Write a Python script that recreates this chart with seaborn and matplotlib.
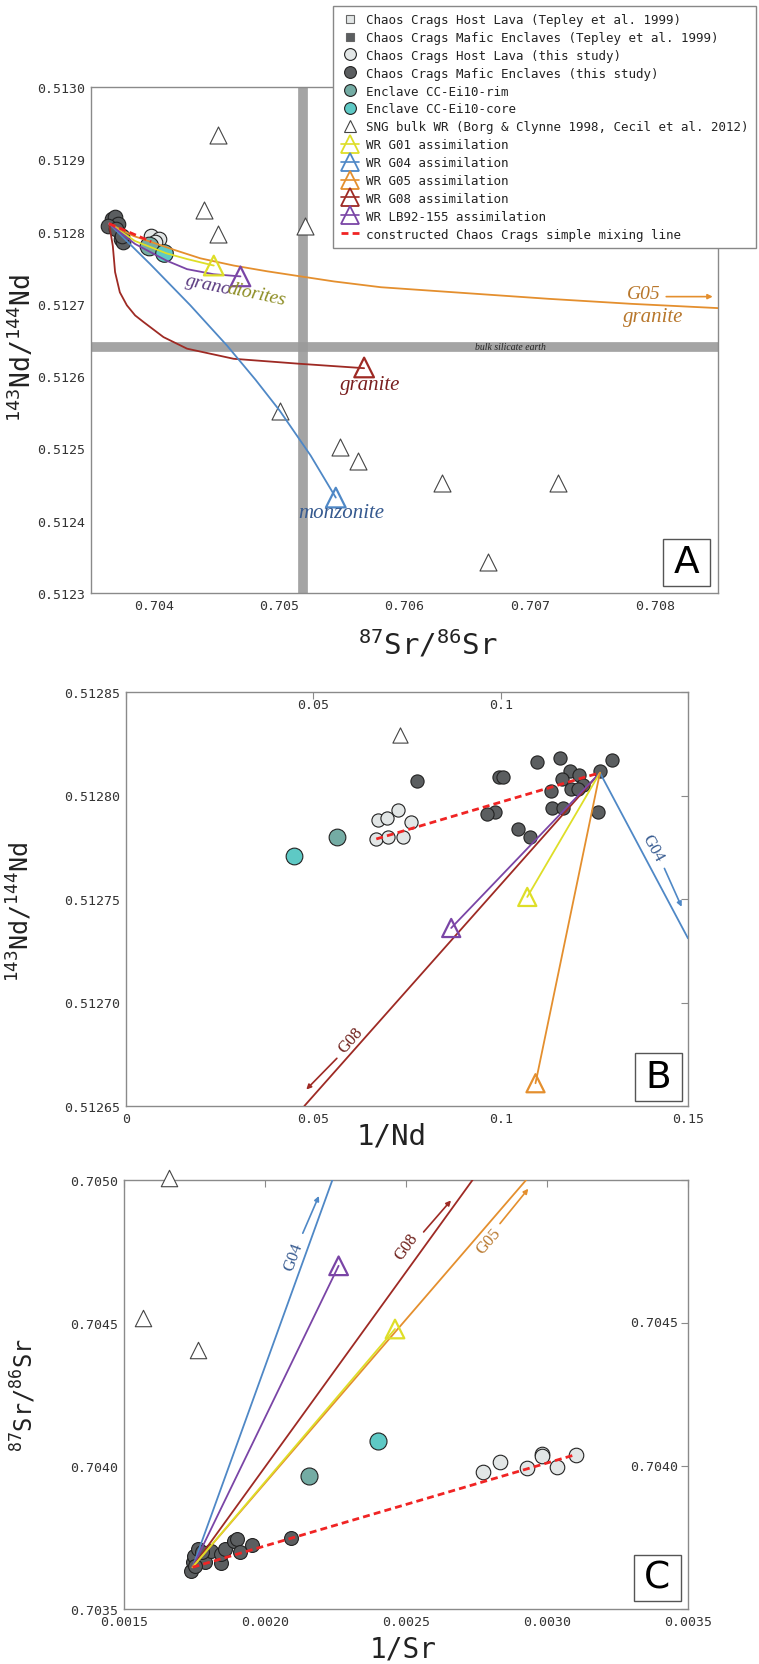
import math
import matplotlib
matplotlib.use("Agg")
import matplotlib.pyplot as plt
import matplotlib.transforms as mtrans
from matplotlib.lines import Line2D
from matplotlib.patches import Rectangle
import pandas as pd
import seaborn as sns

sns.set_theme(style="white")
plt.rcParams["font.family"] = ["DejaVu Sans Mono", "DejaVu Sans"]
plt.rcParams["mathtext.fontset"] = "custom"
plt.rcParams["mathtext.rm"] = "DejaVu Sans Mono"
plt.rcParams["mathtext.it"] = "DejaVu Sans Mono"
plt.rcParams["mathtext.bf"] = "DejaVu Sans Mono"

# ---------------- colours ----------------
C_HOST = "#e2e6e6"
C_MAFIC = "#5b5e60"
C_RIM = "#74aca4"
C_CORE = "#5ec9c5"
C_G01 = "#dede28"
C_G04 = "#4f88c6"
C_G05 = "#e48f2e"
C_G08 = "#9e2a24"
C_LB = "#7a45a6"
C_MIX = "#f02424"
C_BAND = "#9a9a9a"
C_SPINE = "#8a8a8a"

# ---------------- panel A: 87Sr/86Sr vs 143Nd/144Nd ----------------
a_host_sr = [0.70398, 0.70404, 0.70401]
a_host_nd = [0.512794, 0.512790, 0.512786]
a_mafic_sr = [0.703665, 0.703692, 0.703719, 0.703639, 0.703700, 0.703737, 0.703759, 0.703745]
a_mafic_nd = [0.512817, 0.512820, 0.512810, 0.512808, 0.512804, 0.512790, 0.512785, 0.512794]
a_rim = (0.703966, 0.512780)
a_core = (0.704086, 0.512771)
a_sng_sr = [0.704513, 0.704398, 0.704513, 0.705204, 0.705006, 0.705484, 0.705626, 0.706298, 0.707228, 0.706666]
a_sng_nd = [0.512933, 0.512830, 0.512797, 0.512808, 0.512552, 0.512502, 0.512482, 0.512452, 0.512452, 0.512343]
a_bse_sr = 0.70519
a_bse_nd = 0.512641

a_g01_sr = [0.703644, 0.703850, 0.704100, 0.704266, 0.704479]
a_g01_nd = [0.512811, 0.512787, 0.512770, 0.512762, 0.512753]
a_lb_sr = [0.703644, 0.703850, 0.704100, 0.704266, 0.704478, 0.704692]
a_lb_nd = [0.512811, 0.512783, 0.512760, 0.512748, 0.512741, 0.512738]
a_g05_sr = [0.703644, 0.703838, 0.704158, 0.704372, 0.704638, 0.704906, 0.705172,
            0.705438, 0.705812, 0.706478, 0.707146, 0.707812, 0.708514]
a_g05_nd = [0.512811, 0.512794, 0.512775, 0.512763, 0.512753, 0.512745, 0.512738,
            0.512731, 0.512723, 0.512715, 0.512707, 0.512700, 0.512694]
a_g08_sr = [0.703644, 0.703674, 0.703692, 0.703730, 0.703786, 0.703852, 0.703918,
            0.704078, 0.704266, 0.704638, 0.705172, 0.705678]
a_g08_nd = [0.512811, 0.512780, 0.512744, 0.512716, 0.512698, 0.512684, 0.512675,
            0.512654, 0.512638, 0.512624, 0.512617, 0.512611]
a_g04_sr = [0.703644, 0.703972, 0.704292, 0.704586, 0.704812, 0.705006, 0.705252, 0.705452]
a_g04_nd = [0.512811, 0.512755, 0.512698, 0.512642, 0.512595, 0.512552, 0.512490, 0.512432]
a_mix_sr = [0.703644, 0.703980]
a_mix_nd = [0.512811, 0.512786]
a_tri_g01 = (0.704479, 0.512753)
a_tri_lb = (0.704692, 0.512738)
a_tri_g08 = (0.705678, 0.512612)
a_tri_g04 = (0.705452, 0.512432)

# ---------------- panel B: 1/Nd vs 143Nd/144Nd ----------------
b_host_x = [0.0672, 0.0696, 0.0725, 0.0761, 0.0668, 0.0700, 0.0738]
b_host_y = [0.512788, 0.512789, 0.512793, 0.512787, 0.512779, 0.512780, 0.512780]
b_mafic_x = [0.0778, 0.1098, 0.1158, 0.1298, 0.1265, 0.1185, 0.1209, 0.1165, 0.1220,
             0.1189, 0.1207, 0.1134, 0.0996, 0.1007, 0.0985, 0.0964, 0.1136, 0.1167,
             0.1260, 0.1047, 0.1078]
b_mafic_y = [0.512807, 0.512816, 0.512818, 0.512817, 0.512812, 0.512812, 0.512810, 0.512808,
             0.512805, 0.512803, 0.512803, 0.512802, 0.512809, 0.512809, 0.512792, 0.512791,
             0.512794, 0.512794, 0.512792, 0.512784, 0.512780]
b_rim = (0.0564, 0.512780)
b_core = (0.0448, 0.512771)
b_sng = (0.0731, 0.512829)
b_end = (0.1265, 0.512811)
b_tri_g01 = (0.1071, 0.512751)
b_tri_lb = (0.0868, 0.512736)
b_tri_g05 = (0.1093, 0.512661)
b_g04_edge = (0.1500, 0.512731)
b_g08_edge = (0.0476, 0.512650)
b_mix_start = (0.0668, 0.512779)

# ---------------- panel C: 1/Sr vs 87Sr/86Sr ----------------
c_host_x = [0.002772, 0.002835, 0.002930, 0.002984, 0.002984, 0.003036, 0.003102]
c_host_y = [0.703978, 0.704013, 0.703992, 0.704042, 0.704034, 0.703995, 0.704040]
c_mafic_x = [0.001736, 0.001743, 0.001747, 0.001763, 0.001787, 0.001807, 0.001845, 0.001845,
             0.001858, 0.001890, 0.001902, 0.001910, 0.001953, 0.002092, 0.001750, 0.001775]
c_mafic_y = [0.703634, 0.703663, 0.703686, 0.703710, 0.703665, 0.703704, 0.703661, 0.703692,
             0.703710, 0.703739, 0.703745, 0.703700, 0.703725, 0.703747, 0.703650, 0.703700]
c_rim = (0.002155, 0.703966)
c_core = (0.002400, 0.704086)
c_sng_x = [0.001661, 0.001568, 0.001764]
c_sng_y = [0.705006, 0.704517, 0.704407]
c_end = (0.001743, 0.703646)
c_tri_g01 = (0.002461, 0.704479)
c_tri_lb = (0.002261, 0.704700)
c_g04_edge = (0.002239, 0.705000)
c_g08_edge = (0.002736, 0.705000)
c_g05_edge = (0.002926, 0.705000)
c_mix_end = (0.003102, 0.704040)

W, H = 759, 1665
fig = plt.figure(figsize=(W / 100, H / 100), dpi=100)


def fig_axes(l, t, r, b):
    return fig.add_axes([l / W, 1 - b / H, (r - l) / W, (b - t) / H])


axA = fig_axes(91, 88, 718, 594)
axB = fig_axes(126, 693, 688, 1107)
axC = fig_axes(124, 1181, 688, 1610)

EDGE = "#222222"


def points(ax, x, y, color, size, z=3):
    df = pd.DataFrame({"x": list(x), "y": list(y)})
    sns.scatterplot(data=df, x="x", y="y", ax=ax, color=color, s=size,
                    edgecolor=EDGE, linewidth=0.8, zorder=z, legend=False)


def sng(ax, x, y, size):
    df = pd.DataFrame({"x": list(x), "y": list(y)})
    sns.scatterplot(data=df, x="x", y="y", ax=ax, marker="^", s=size,
                    facecolor="white", edgecolor="#444444", linewidth=0.8,
                    zorder=4, legend=False, clip_on=False)


def curve(ax, x, y, color, lw=1.3, z=5, **kw):
    df = pd.DataFrame({"x": list(x), "y": list(y)})
    sns.lineplot(data=df, x="x", y="y", ax=ax, color=color, lw=lw, sort=False,
                 estimator=None, zorder=z, legend=False, **kw)


def tri(ax, pt, color, size=170):
    df = pd.DataFrame({"x": [pt[0]], "y": [pt[1]]})
    sns.scatterplot(data=df, x="x", y="y", ax=ax, marker="^", s=size,
                    facecolor="none", edgecolor=color, linewidth=1.6,
                    zorder=7, legend=False)


def style(ax):
    for sp in ax.spines.values():
        sp.set_color(C_SPINE)
        sp.set_linewidth(1.0)
    ax.tick_params(direction="in", length=5, width=0.8, color=C_SPINE,
                   labelsize=9.5, labelcolor="#333333", pad=4)
    ax.set_facecolor("white")
    ax.grid(False)


def panel_tag(ax, letter, x0, y0, x1, y1):
    ax.add_patch(Rectangle((x0, y0), x1 - x0, y1 - y0, transform=ax.transAxes,
                           facecolor="white", edgecolor="#555555", lw=1.0,
                           zorder=20, clip_on=False))
    ax.text((x0 + x1) / 2, (y0 + y1) / 2, letter, transform=ax.transAxes,
            ha="center", va="center", fontsize=27, family="DejaVu Sans",
            color="black", zorder=21)


serif = ["Liberation Serif", "DejaVu Serif"]

# ======================= panel A =======================
axA.axvline(a_bse_sr, color=C_BAND, lw=7, alpha=0.9, zorder=1)
axA.axhline(a_bse_nd, color=C_BAND, lw=7, alpha=0.9, zorder=1)
points(axA, a_host_sr, a_host_nd, C_HOST, 110)
points(axA, a_mafic_sr, a_mafic_nd, C_MAFIC, 110)
points(axA, [a_rim[0]], [a_rim[1]], C_RIM, 180)
points(axA, [a_core[0]], [a_core[1]], C_CORE, 160)
sng(axA, a_sng_sr, a_sng_nd, 150)
curve(axA, a_g05_sr, a_g05_nd, C_G05)
curve(axA, a_g08_sr, a_g08_nd, C_G08)
curve(axA, a_g04_sr, a_g04_nd, C_G04)
curve(axA, a_g01_sr, a_g01_nd, C_G01)
curve(axA, a_lb_sr, a_lb_nd, C_LB)
curve(axA, a_mix_sr, a_mix_nd, C_MIX, lw=2.0, z=6, dashes=(2.5, 1.5))
tri(axA, a_tri_g01, C_G01, 200)
tri(axA, a_tri_lb, C_LB, 200)
tri(axA, a_tri_g08, C_G08, 200)
tri(axA, a_tri_g04, C_G04, 200)

axA.set_xlim(0.7035, 0.7085)
axA.set_ylim(0.5123, 0.5130)
axA.set_xticks([0.704, 0.705, 0.706, 0.707, 0.708])
axA.set_xticklabels(["0.704", "0.705", "0.706", "0.707", "0.708"])
axA.set_yticks([0.5123 + 0.0001 * i for i in range(8)])
axA.set_yticklabels(["%.4f" % (0.5123 + 0.0001 * i) for i in range(8)])
style(axA)
axA.set_xlabel(r"$^{87}$Sr/$^{86}$Sr", fontsize=21, color="#222222", va="center")
axA.xaxis.set_label_coords(0.537, -0.1)
axA.set_ylabel(r"$^{143}$Nd/$^{144}$Nd", fontsize=19, color="#222222", va="center")
axA.yaxis.set_label_coords(-0.11, 0.486)

# two-coloured "granodiorites": second half placed right after the first along the baseline
g_rot = -12
gkw = dict(fontsize=14, family=serif, style="italic", rotation=g_rot,
           rotation_mode="anchor", va="baseline", ha="left", zorder=8)
g_x, g_y = 0.704252, 0.512728
axA.text(g_x, g_y, "grano", color="#5a3a80", **gkw)
fig.canvas.draw()
probe = axA.text(0, 0, "grano", fontsize=14, family=serif, style="italic")
w_px = probe.get_window_extent(renderer=fig.canvas.get_renderer()).width * 0.9
probe.remove()
off = mtrans.offset_copy(axA.transData, fig=fig,
                         x=w_px * math.cos(math.radians(g_rot)),
                         y=w_px * math.sin(math.radians(g_rot)), units="dots")
axA.text(g_x, g_y, "diorites", color="#8c8c22", transform=off, **gkw)

axA.text(0.707908, 0.512714, "G05", color="#b8772c", fontsize=14, family=serif,
         style="italic", ha="center", va="center", zorder=8)
axA.annotate("", xy=(0.70848, 0.512710), xytext=(0.708065, 0.512710),
             arrowprops=dict(arrowstyle="-|>", color=C_G05, lw=1.2, mutation_scale=7), zorder=8)
axA.text(0.70798, 0.512682, "granite", color="#b8772c", fontsize=15, family=serif,
         style="italic", ha="center", va="center", zorder=8)
axA.text(0.705724, 0.512589, "granite", color="#7a1f1f", fontsize=15, family=serif,
         style="italic", ha="center", va="center", zorder=8)
axA.text(0.705492, 0.512412, "monzonite", color="#35598f", fontsize=15, family=serif,
         style="italic", ha="center", va="center", zorder=8)
axA.text(0.706844, 0.512641, "bulk silicate earth", color="#222222", fontsize=7,
         family=serif, style="italic", ha="center", va="center", zorder=8)
panel_tag(axA, "A", 0.912, 0.014, 0.987, 0.107)

# ======================= panel B =======================
points(axB, b_host_x, b_host_y, C_HOST, 90)
points(axB, b_mafic_x, b_mafic_y, C_MAFIC, 90)
points(axB, [b_rim[0]], [b_rim[1]], C_RIM, 145)
points(axB, [b_core[0]], [b_core[1]], C_CORE, 145)
sng(axB, [b_sng[0]], [b_sng[1]], 120)
curve(axB, [b_end[0], b_g04_edge[0]], [b_end[1], b_g04_edge[1]], C_G04)
curve(axB, [b_end[0], b_g08_edge[0]], [b_end[1], b_g08_edge[1]], C_G08)
curve(axB, [b_end[0], b_tri_lb[0]], [b_end[1], b_tri_lb[1]], C_LB)
curve(axB, [b_end[0], b_tri_g01[0]], [b_end[1], b_tri_g01[1]], C_G01)
curve(axB, [b_end[0], b_tri_g05[0]], [b_end[1], b_tri_g05[1]], C_G05)
curve(axB, [b_mix_start[0], b_end[0]], [b_mix_start[1], b_end[1]], C_MIX, lw=2.0, z=6,
      dashes=(2.5, 1.5))
tri(axB, b_tri_g01, C_G01, 170)
tri(axB, b_tri_lb, C_LB, 170)
tri(axB, b_tri_g05, C_G05, 170)

axB.set_xlim(0, 0.15)
axB.set_ylim(0.51265, 0.51285)
axB.set_xticks([0, 0.05, 0.1, 0.15])
axB.set_xticklabels(["0", "0.05", "0.1", "0.15"])
axB.set_yticks([0.51265, 0.51270, 0.51275, 0.51280, 0.51285])
axB.set_yticklabels(["0.51265", "0.51270", "0.51275", "0.51280", "0.51285"])
style(axB)
axB.tick_params(top=True, right=True)
tB = mtrans.blended_transform_factory(axB.transData, axB.transAxes)
for v, s in [(0.05, "0.05"), (0.1, "0.1")]:
    axB.text(v, 0.985, s, transform=tB, ha="center", va="top", fontsize=9.5, color="#333333")
axB.set_xlabel("1/Nd", fontsize=21, color="#222222", va="center")
axB.xaxis.set_label_coords(0.472, -0.072)
axB.set_ylabel(r"$^{143}$Nd/$^{144}$Nd", fontsize=18, color="#222222", va="center")
axB.yaxis.set_label_coords(-0.19, 0.47)

axB.text(0.1407, 0.512775, "G04", color="#35598f", fontsize=12, family=serif,
         rotation=-61, ha="center", va="center", zorder=8)
axB.annotate("", xy=(0.1486, 0.512745), xytext=(0.1434, 0.512766),
             arrowprops=dict(arrowstyle="-|>", color=C_G04, lw=1.2, mutation_scale=7))
axB.text(0.0600, 0.512682, "G08", color="#6e1f1a", fontsize=12, family=serif,
         rotation=48.5, ha="center", va="center", zorder=8)
axB.annotate("", xy=(0.0476, 0.512657), xytext=(0.0568, 0.512674),
             arrowprops=dict(arrowstyle="-|>", color=C_G08, lw=1.2, mutation_scale=7))
panel_tag(axB, "B", 0.906, 0.012, 0.989, 0.128)

# ======================= panel C =======================
points(axC, c_host_x, c_host_y, C_HOST, 110)
points(axC, c_mafic_x, c_mafic_y, C_MAFIC, 100)
points(axC, [c_rim[0]], [c_rim[1]], C_RIM, 150)
points(axC, [c_core[0]], [c_core[1]], C_CORE, 150)
sng(axC, c_sng_x, c_sng_y, 140)
curve(axC, [c_end[0], c_g04_edge[0]], [c_end[1], c_g04_edge[1]], C_G04)
curve(axC, [c_end[0], c_tri_lb[0]], [c_end[1], c_tri_lb[1]], C_LB)
curve(axC, [c_end[0], c_g08_edge[0]], [c_end[1], c_g08_edge[1]], C_G08)
curve(axC, [c_end[0], c_g05_edge[0]], [c_end[1], c_g05_edge[1]], C_G05)
curve(axC, [c_end[0], c_tri_g01[0]], [c_end[1], c_tri_g01[1]], C_G01)
curve(axC, [c_end[0], c_mix_end[0]], [c_end[1], c_mix_end[1]], C_MIX, lw=2.0, z=6,
      dashes=(2.5, 1.5))
tri(axC, c_tri_g01, C_G01, 180)
tri(axC, c_tri_lb, C_LB, 180)

axC.set_xlim(0.0015, 0.0035)
axC.set_ylim(0.7035, 0.7050)
axC.set_xticks([0.0015, 0.0020, 0.0025, 0.0030, 0.0035])
axC.set_xticklabels(["0.0015", "0.0020", "0.0025", "0.0030", "0.0035"])
axC.set_yticks([0.7035, 0.7040, 0.7045, 0.7050])
axC.set_yticklabels(["0.7035", "0.7040", "0.7045", "0.7050"])
style(axC)
axC.tick_params(top=True, right=True)
tC = mtrans.blended_transform_factory(axC.transAxes, axC.transData)
for v, s in [(0.7040, "0.7040"), (0.7045, "0.7045")]:
    axC.text(0.983, v, s, transform=tC, ha="right", va="center", fontsize=9.5, color="#333333")
axC.set_xlabel("1/Sr", fontsize=20, color="#222222", va="center")
axC.xaxis.set_label_coords(0.495, -0.093)
axC.set_ylabel(r"$^{87}$Sr/$^{86}$Sr", fontsize=17, color="#222222", va="center")
axC.yaxis.set_label_coords(-0.178, 0.5)

axC.text(0.002100, 0.704735, "G04", color="#35598f", fontsize=12, family=serif,
         rotation=70, ha="center", va="center", zorder=8)
axC.annotate("", xy=(0.002195, 0.704953), xytext=(0.002130, 0.704805),
             arrowprops=dict(arrowstyle="-|>", color=C_G04, lw=1.2, mutation_scale=7))
axC.text(0.002502, 0.704769, "G08", color="#6e1f1a", fontsize=12, family=serif,
         rotation=54, ha="center", va="center", zorder=8)
axC.annotate("", xy=(0.002666, 0.704936), xytext=(0.002556, 0.704811),
             arrowprops=dict(arrowstyle="-|>", color=C_G08, lw=1.2, mutation_scale=7))
axC.text(0.002792, 0.704788, "G05", color="#b8772c", fontsize=12, family=serif,
         rotation=49, ha="center", va="center", zorder=8)
axC.annotate("", xy=(0.002940, 0.704977), xytext=(0.002827, 0.704840),
             arrowprops=dict(arrowstyle="-|>", color=C_G05, lw=1.2, mutation_scale=7))
panel_tag(axC, "C", 0.904, 0.019, 0.987, 0.127)

# ======================= legend =======================
def mk(marker, fc, ms, ec=EDGE, mew=0.8):
    return Line2D([], [], ls="", marker=marker, markerfacecolor=fc,
                  markeredgecolor=ec, markersize=ms, markeredgewidth=mew)


def tl(color):
    return Line2D([], [], color=color, lw=1.2, marker="^", markerfacecolor="none",
                  markeredgecolor=color, markersize=13, markeredgewidth=1.3)


handles = [
    mk("s", C_HOST, 6, ec="#666666"),
    mk("s", C_MAFIC, 6, ec="#666666"),
    mk("o", C_HOST, 8.5),
    mk("o", C_MAFIC, 8.5),
    mk("o", C_RIM, 8.5),
    mk("o", C_CORE, 8.5),
    mk("^", "white", 9, ec="#444444"),
    tl(C_G01), tl(C_G04), tl(C_G05), tl(C_G08), tl(C_LB),
    Line2D([], [], color=C_MIX, lw=2.0, dashes=(2.5, 1.5)),
]
labels = [
    "Chaos Crags Host Lava (Tepley et al. 1999)",
    "Chaos Crags Mafic Enclaves (Tepley et al. 1999)",
    "Chaos Crags Host Lava (this study)",
    "Chaos Crags Mafic Enclaves (this study)",
    "Enclave CC-Ei10-rim",
    "Enclave CC-Ei10-core",
    "SNG bulk WR (Borg & Clynne 1998, Cecil et al. 2012)",
    "WR G01 assimilation",
    "WR G04 assimilation",
    "WR G05 assimilation",
    "WR G08 assimilation",
    "WR LB92-155 assimilation",
    "constructed Chaos Crags simple mixing line",
]
leg = fig.legend(handles, labels, loc="upper left", bbox_to_anchor=(333 / W, 1 - 6.5 / H),
                 bbox_transform=fig.transFigure, frameon=True, fancybox=False,
                 fontsize=9, handlelength=1.5, handletextpad=0.5, labelspacing=0.39,
                 borderpad=0.6, borderaxespad=0, framealpha=1)
leg.get_frame().set_edgecolor("#888888")
leg.get_frame().set_linewidth(1.0)
for t in leg.get_texts():
    t.set_color("#222222")

fig.savefig("out.png", dpi=100, facecolor="white")
